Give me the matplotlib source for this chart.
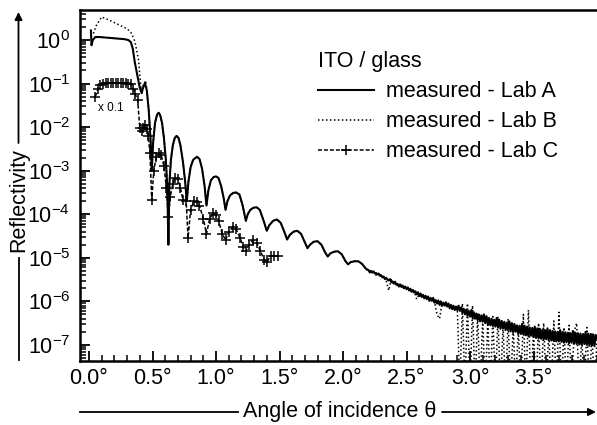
import numpy as np
import matplotlib
matplotlib.use("Agg")
import matplotlib.pyplot as plt
from matplotlib.lines import Line2D
from matplotlib.patches import FancyArrowPatch
from matplotlib.ticker import FixedLocator, FixedFormatter, LogLocator, NullFormatter

plt.rcParams['font.family'] = ['Liberation Sans', 'DejaVu Sans']
plt.rcParams['mathtext.fontset'] = 'custom'
plt.rcParams['mathtext.rm'] = 'Liberation Sans'
plt.rcParams['mathtext.it'] = 'Liberation Sans:italic'
plt.rcParams['mathtext.default'] = 'regular'

# ---------------- data (angle in degrees, reflectivity as log10) ----------------
# Lab A: critical edge + Kiessig fringes
lab_a_theta = [0.015, 0.02, 0.03, 0.05, 0.08, 0.12, 0.16, 0.20, 0.24, 0.28, 0.31, 0.33, 0.345,
               0.36, 0.38, 0.40, 0.415, 0.425, 0.44, 0.455, 0.47, 0.485,
               0.494, 0.505, 0.52, 0.535, 0.548, 0.56, 0.575, 0.59, 0.605, 0.617,
               0.625, 0.633, 0.645, 0.66, 0.675, 0.69, 0.705, 0.72, 0.74, 0.757,
               0.77, 0.783, 0.80, 0.82, 0.85, 0.87, 0.89, 0.91,
               0.925, 0.94, 0.96, 0.98, 1.0, 1.02, 1.04, 1.06,
               1.075, 1.09, 1.11, 1.135, 1.16, 1.185, 1.21,
               1.235, 1.25, 1.27, 1.295, 1.32, 1.345, 1.375,
               1.40, 1.42, 1.45, 1.48, 1.51, 1.54,
               1.56, 1.58, 1.61, 1.64, 1.67, 1.70,
               1.72, 1.74, 1.77, 1.80, 1.83, 1.86,
               1.88, 1.90, 1.93, 1.96, 1.99, 2.02,
               2.04, 2.06, 2.09, 2.12, 2.15, 2.18]
lab_a_log = [0.22, -0.12, 0.0, 0.07, 0.07, 0.06, 0.05, 0.04, 0.03, 0.02, 0.0, -0.05, -0.2,
             -0.5, -0.8, -1.1, -1.22, -1.1, -0.99, -1.15, -1.6, -2.3,
             -3.0, -2.35, -1.9, -1.72, -1.67, -1.72, -1.9, -2.25, -2.75, -3.4,
             -4.7, -3.3, -2.75, -2.42, -2.25, -2.2, -2.25, -2.42, -2.8, -3.25,
             -3.7, -3.25, -2.92, -2.75, -2.68, -2.73, -2.95, -3.35,
             -3.8, -3.45, -3.22, -3.15, -3.13, -3.17, -3.35, -3.62,
             -3.9, -3.7, -3.57, -3.51, -3.5, -3.55, -3.8,
             -4.15, -4.0, -3.9, -3.85, -3.84, -3.9, -4.15,
             -4.38, -4.25, -4.15, -4.12, -4.2, -4.42,
             -4.58, -4.48, -4.4, -4.38, -4.45, -4.65,
             -4.78, -4.7, -4.63, -4.62, -4.7, -4.88,
             -4.97, -4.9, -4.86, -4.85, -4.92, -5.08,
             -5.15, -5.1, -5.08, -5.08, -5.14, -5.25]
# Lab A: noisy tail, sampled every 0.01 deg from 2.20 to 4.00
lab_a_tail_log = [
    -5.28, -5.33, -5.30, -5.34, -5.31, -5.36, -5.35, -5.38, -5.36, -5.41,
    -5.40, -5.45, -5.43, -5.49, -5.46, -5.50, -5.52, -5.49, -5.56, -5.54,
    -5.59, -5.55, -5.62, -5.60, -5.66, -5.61, -5.67, -5.64, -5.70, -5.66,
    -5.72, -5.68, -5.75, -5.71, -5.78, -5.74, -5.80, -5.77, -5.84, -5.79,
    -5.88, -5.82, -5.90, -5.85, -5.93, -5.87, -5.95, -5.89, -5.99, -5.92,
    -5.99, -5.92, -6.03, -5.97, -6.05, -5.98, -6.08, -6.00, -6.10, -6.03,
    -6.10, -6.02, -6.12, -6.05, -6.16, -6.08, -6.18, -6.10, -6.20, -6.12,
    -6.20, -6.10, -6.22, -6.14, -6.26, -6.17, -6.30, -6.19, -6.33, -6.22,
    -6.35, -6.20, -6.38, -6.25, -6.40, -6.28, -6.43, -6.30, -6.46, -6.32,
    -6.47, -6.30, -6.50, -6.34, -6.52, -6.38, -6.55, -6.40, -6.57, -6.42,
    -6.58, -6.38, -6.60, -6.42, -6.63, -6.45, -6.62, -6.47, -6.66, -6.49,
    -6.66, -6.46, -6.69, -6.50, -6.71, -6.52, -6.70, -6.55, -6.74, -6.56,
    -6.75, -6.52, -6.76, -6.56, -6.78, -6.58, -6.80, -6.60, -6.79, -6.61,
    -6.82, -6.58, -6.84, -6.62, -6.85, -6.63, -6.86, -6.65, -6.88, -6.66,
    -6.87, -6.62, -6.89, -6.66, -6.90, -6.68, -6.91, -6.69, -6.92, -6.70,
    -6.92, -6.66, -6.93, -6.70, -6.95, -6.71, -6.94, -6.72, -6.96, -6.73,
    -6.95, -6.68, -6.97, -6.72, -6.98, -6.73, -6.99, -6.74, -7.00, -6.75,
    -6.98, -6.70, -7.00, -6.74, -7.02, -6.75, -7.01, -6.76, -7.03, -6.77,
    -6.85]
lab_a_tail_theta = np.round(np.linspace(2.20, 4.00, len(lab_a_tail_log)), 3)

# Lab B: higher plateau below the critical angle, then overlaps Lab A
lab_b_top_theta = [0.034, 0.06, 0.10, 0.15, 0.20, 0.25, 0.30, 0.336, 0.362, 0.39, 0.41, 0.425, 0.447]
lab_b_top_log = [0.15, 0.35, 0.53, 0.47, 0.40, 0.33, 0.26, 0.15, -0.04, -0.45, -1.15, -1.05, -0.93]
# Lab B: tail every 0.02 deg from 2.20 to 4.00 (-8 = zero counts, below the axis)
lab_b_tail_log = [
    -5.32, -5.36, -5.33, -5.40, -5.38, -5.45, -5.42, -5.52, -5.75, -5.50,
    -5.62, -5.58, -5.66, -5.63, -5.70, -5.69, -5.74, -5.77, -5.76, -5.95,
    -5.84, -5.88, -5.90, -5.93, -5.91, -5.98, -6.00, -6.30, -6.40, -6.03,
    -6.08, -6.10, -6.12, -6.14, -6.18,
    -6.16, -8.0, -6.05, -8.0, -6.05,
    -8.0, -6.10, -8.0, -6.30, -8.0, -6.40, -8.0, -6.45, -8.0, -6.35,
    -8.0, -6.35, -8.0, -6.55, -8.0, -6.40, -8.0, -6.58, -8.0, -6.60,
    -8.0, -6.30, -8.0, -6.20, -8.0, -6.68, -8.0, -6.50, -8.0, -6.50,
    -8.0, -6.72, -8.0, -6.45, -8.0, -6.25, -8.0, -6.60, -8.0, -6.55,
    -8.0, -6.70, -6.50, -8.0, -6.82, -8.0, -6.60, -8.0, -6.75, -8.0,
    -6.85]
lab_b_tail_theta = np.round(np.linspace(2.20, 4.00, len(lab_b_tail_log)), 3)

# Lab C: scaled by 0.1
lab_c_theta = [0.05, 0.07, 0.09, 0.11, 0.13, 0.15, 0.17, 0.19, 0.21, 0.23, 0.25, 0.27, 0.29, 0.31,
               0.33, 0.35, 0.365, 0.383, 0.40, 0.415, 0.428, 0.44, 0.455, 0.467, 0.48,
               0.494, 0.51, 0.53, 0.55, 0.57, 0.59, 0.61, 0.625, 0.64, 0.66, 0.68, 0.70,
               0.72, 0.74, 0.765, 0.78, 0.80, 0.825, 0.85, 0.87, 0.90, 0.925, 0.95, 0.975,
               1.0, 1.02, 1.05, 1.075, 1.10, 1.13, 1.16, 1.19, 1.215, 1.235, 1.26, 1.29,
               1.32, 1.35, 1.38, 1.40, 1.43, 1.46, 1.49]
lab_c_log = [-1.3, -1.12, -1.04, -1.0, -0.99, -0.98, -0.98, -0.98, -0.98, -0.98, -0.98, -0.98, -0.99, -1.0,
             -1.02, -1.12, -1.25, -1.38, -2.02, -2.1, -2.03, -1.96, -2.05, -2.2, -2.6,
             -3.67, -3.0, -2.68, -2.6, -2.65, -2.9, -3.4, -4.06, -3.6, -3.3, -3.17, -3.2,
             -3.4, -3.67, -3.7, -4.54, -3.9, -3.7, -3.72, -3.8, -4.1, -4.45, -4.1, -3.98,
             -4.02, -4.15, -4.45, -4.6, -4.4, -4.3, -4.35, -4.55, -4.75, -4.85, -4.7, -4.6,
             -4.65, -4.85, -5.05, -5.1, -4.95, -4.95, -4.97]

x_ticks = [0.0, 0.5, 1.0, 1.5, 2.0, 2.5, 3.0, 3.5]
x_ticklabels = ['0.0°', '0.5°', '1.0°', '1.5°', '2.0°', '2.5°', '3.0°', '3.5°']
y_ticks = [1e-7, 1e-6, 1e-5, 1e-4, 1e-3, 1e-2, 1e-1, 1e0]
y_ticklabels = ['$10^{-7}$', '$10^{-6}$', '$10^{-5}$', '$10^{-4}$', '$10^{-3}$',
                '$10^{-2}$', '$10^{-1}$', '$10^{0}$']
series_labels = ['measured - Lab A', 'measured - Lab B', 'measured - Lab C']
legend_title = 'ITO / glass'

# ---------------- assemble series ----------------
a_theta = np.concatenate([lab_a_theta, lab_a_tail_theta])
a_R = 10.0 ** np.concatenate([lab_a_log, lab_a_tail_log])
mid = [(t, v) for t, v in zip(lab_a_theta, lab_a_log) if t > 0.45]
b_theta = np.concatenate([lab_b_top_theta, [m[0] for m in mid], lab_b_tail_theta])
b_R = 10.0 ** np.concatenate([lab_b_top_log, [m[1] for m in mid], lab_b_tail_log])
c_theta = np.array(lab_c_theta)
c_R = 10.0 ** np.array(lab_c_log)

# ---------------- figure ----------------
W, H = 597, 425
fig = plt.figure(figsize=(W / 100, H / 100), dpi=100)
ax_l, ax_r, ax_b, ax_t = 80, 600, 361, 10
ax = fig.add_axes([ax_l / W, 1 - ax_b / H, (ax_r - ax_l) / W, (ax_b - ax_t) / H])

FS = 15.5
dash_c = (0, (2.6, 1.3))
dot_b = (0, (1.0, 1.6))

ax.plot(b_theta, b_R, color='k', lw=1.1, linestyle=dot_b)
ax.plot(a_theta, a_R, color='k', lw=1.5, linestyle='-')
ax.plot(c_theta, c_R, color='k', lw=1.1, linestyle=dash_c, marker='+', ms=7.5, mew=1.1)

ax.set_yscale('log')
ax.set_xlim(-9 / 127, (ax_r - 89) / 127)
ax.set_ylim(10 ** -7.37, 10 ** 0.69)

ax.xaxis.set_major_locator(FixedLocator(x_ticks))
ax.xaxis.set_major_formatter(FixedFormatter(x_ticklabels))
ax.xaxis.set_minor_locator(FixedLocator(np.round(np.arange(0, 4.01, 0.1), 2)))
ax.xaxis.set_minor_formatter(NullFormatter())
ax.yaxis.set_major_locator(FixedLocator(y_ticks))
ax.yaxis.set_major_formatter(FixedFormatter(y_ticklabels))
ax.yaxis.set_minor_locator(LogLocator(base=10, subs=np.arange(2, 10), numticks=20))
ax.yaxis.set_minor_formatter(NullFormatter())

ax.tick_params(which='both', direction='in', color='k', labelsize=FS, top=False, right=False)
ax.tick_params(which='major', length=7, width=1.3)
ax.tick_params(which='minor', length=4, width=1.1)
ax.tick_params(axis='x', pad=5)
ax.tick_params(axis='y', pad=7)

for s in ['left', 'bottom', 'top']:
    ax.spines[s].set_linewidth(1.8)
ax.spines['right'].set_visible(False)

ax.text(0.173, 10 ** -1.56, 'x 0.1', fontsize=8.5, ha='center', va='center')

handles = [Line2D([], [], color='k', lw=1.5),
           Line2D([], [], color='k', lw=1.1, linestyle=dot_b),
           Line2D([], [], color='k', lw=1.1, linestyle=dash_c, marker='+', ms=7.5, mew=1.1)]
leg = ax.legend(handles, series_labels, title=legend_title, loc='upper left',
                bbox_to_anchor=((318 - ax_l) / (ax_r - ax_l), (ax_b - 51) / (ax_b - ax_t)),
                frameon=False, fontsize=FS, title_fontsize=FS, handlelength=2.6,
                handletextpad=0.55, labelspacing=0.42, borderpad=0, borderaxespad=0,
                alignment='left', numpoints=1)

# y-axis label with arrow
fx = 18.5 / W
fig.text(fx, 1 - 200 / H, 'Reflectivity', rotation=90, ha='center', va='center', fontsize=FS)
fig.add_artist(Line2D([fx, fx], [1 - 360 / H, 1 - 258 / H], color='k', lw=1.3))
fig.add_artist(FancyArrowPatch((fx, 1 - 143 / H), (fx, 1 - 12 / H), transform=fig.transFigure,
                               arrowstyle='-|>', color='k', lw=1.3, mutation_scale=11,
                               shrinkA=0, shrinkB=0))

# x-axis label with arrow
fy = 1 - 412 / H
fig.text(340 / W, fy, 'Angle of incidence θ', ha='center', va='center', fontsize=FS)
fig.add_artist(Line2D([80 / W, 238 / W], [fy, fy], color='k', lw=1.3))
fig.add_artist(FancyArrowPatch((442 / W, fy), (596 / W, fy), transform=fig.transFigure,
                               arrowstyle='-|>', color='k', lw=1.3, mutation_scale=11,
                               shrinkA=0, shrinkB=0))

fig.savefig('out.png', dpi=100)
